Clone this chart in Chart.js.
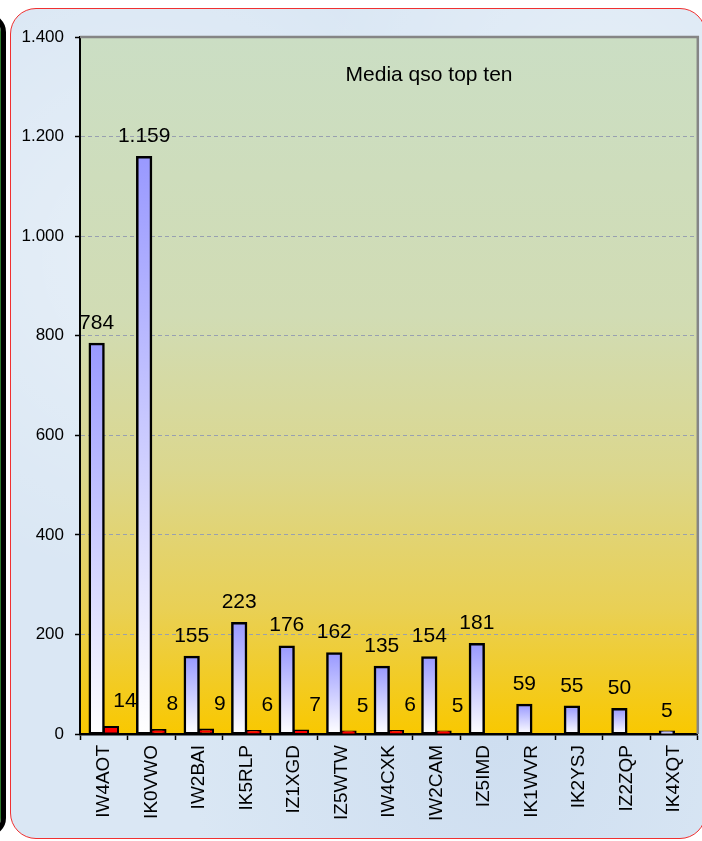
<!DOCTYPE html>
<html>
<head>
<meta charset="utf-8">
<title>Media qso top ten</title>
<script src="https://cdn.jsdelivr.net/npm/chart.js@4.4.1/dist/chart.umd.min.js"></script>
<style>
  html, body { margin: 0; padding: 0; background: #ffffff; }
  body { width: 702px; height: 841px; position: relative; overflow: hidden; }
  .side {
    position: absolute; left: -300px; top: 14px; width: 306px; height: 822px;
    border: 5px solid #000; border-radius: 18px; box-sizing: border-box;
    box-shadow: inset -2px 0 0 #2a7a2a;
  }
  .panel {
    position: absolute; left: 10px; top: 8px; width: 696px; height: 831px;
    border: 1.5px solid #f03030; border-radius: 26px; box-sizing: border-box;
    background-color: #dae7f4;
    background-image:
      radial-gradient(ellipse at 20% 30%, rgba(255,255,255,0.35), rgba(255,255,255,0) 40%),
      radial-gradient(ellipse at 70% 85%, rgba(190,210,235,0.45), rgba(190,210,235,0) 45%),
      radial-gradient(ellipse at 85% 15%, rgba(255,255,255,0.3), rgba(255,255,255,0) 35%);
  }
  #wrap { position: absolute; left: 0; top: 0; width: 702px; height: 841px; }
</style>
</head>
<body>
<div class="side"></div>
<div class="panel"></div>
<div id="wrap"><canvas id="qsoChart"></canvas></div>

<script>
const categories = ["IW4AOT", "IK0VWO", "IW2BAI", "IK5RLP", "IZ1XGD", "IZ5WTW", "IW4CXK",
                    "IW2CAM", "IZ5IMD", "IK1WVR", "IK2YSJ", "IZ2ZQP", "IK4XQT"];
const mediaQso = [784, 1159, 155, 223, 176, 162, 135, 154, 181, 59, 55, 50, 5];
const secondSeries = [14, 8, 9, 6, 7, 5, 6, 5, null, null, null, null, null];
const yTicks = [0, 200, 400, 600, 800, 1000, 1200, 1400];
const chartTitle = "Media qso top ten";

// 1200 -> "1.200" (italian thousands separator)
function fmt(v) {
  return String(v).replace(/\B(?=(\d{3})+(?!\d))/g, ".");
}

Chart.defaults.font.family = "'Liberation Sans', Arial, sans-serif";
Chart.defaults.color = "#000";

// plot area gradient + frame
const plotBackground = {
  id: "plotBackground",
  beforeDraw(chart) {
    const { ctx, chartArea: a } = chart;
    const g = ctx.createLinearGradient(0, a.top, 0, a.bottom);
    g.addColorStop(0, "#cbdec4");
    g.addColorStop(0.4, "#d1dcb4");
    g.addColorStop(0.62, "#dbd78e");
    g.addColorStop(0.82, "#e9d055");
    g.addColorStop(1, "#f9c800");
    ctx.save();
    ctx.fillStyle = g;
    ctx.fillRect(a.left, a.top, a.right - a.left, a.bottom - a.top);
    ctx.restore();
  },
  afterDraw(chart) {
    const { ctx, chartArea: a } = chart;
    ctx.save();
    ctx.strokeStyle = "#858585";
    ctx.lineWidth = 2.5;
    ctx.beginPath();
    ctx.moveTo(a.left, a.top);
    ctx.lineTo(a.right, a.top);
    ctx.lineTo(a.right, a.bottom);
    ctx.stroke();
    // title sits inside the plot area
    ctx.fillStyle = "#000";
    ctx.font = "21px 'Liberation Sans', Arial, sans-serif";
    ctx.textAlign = "center";
    ctx.textBaseline = "middle";
    ctx.fillText(chartTitle, a.left + (a.right - a.left) * 0.565, a.top + 38);
    ctx.restore();
  }
};

// value labels over the bars
const valueLabels = {
  id: "valueLabels",
  afterDatasetsDraw(chart) {
    const { ctx } = chart;
    ctx.save();
    ctx.fillStyle = "#000";
    ctx.font = "21px 'Liberation Sans', Arial, sans-serif";
    ctx.textBaseline = "alphabetic";
    ctx.textAlign = "center";
    chart.data.datasets.forEach((ds, di) => {
      const meta = chart.getDatasetMeta(di);
      meta.data.forEach((bar, i) => {
        const v = ds.data[i];
        if (v === null || v === undefined) return;
        if (di === 0) {
          ctx.fillText(fmt(v), bar.x, bar.y - 15);
        } else {
          ctx.fillText(fmt(v), bar.x + 14, bar.y - 20);
        }
      });
    });
    ctx.restore();
  }
};

function blueFill(context) {
  const chart = context.chart;
  const y = chart.scales.y;
  if (!chart.chartArea || !y) return "#9999ff";
  const v = context.raw || 0;
  const top = y.getPixelForValue(v);
  const base = y.getPixelForValue(0);
  if (base - top < 1) return "#9999ff";
  const g = chart.ctx.createLinearGradient(0, top, 0, base);
  g.addColorStop(0, "#9999ff");
  g.addColorStop(1, "#ffffff");
  return g;
}

document.addEventListener("DOMContentLoaded", () => {
  const canvas = document.getElementById("qsoChart");
  const ctx = canvas.getContext("2d");

  new Chart(ctx, {
    type: "bar",
    data: {
      labels: categories,
      datasets: [
        {
          label: "Media qso",
          data: mediaQso,
          backgroundColor: blueFill,
          borderColor: "#000",
          borderWidth: 2.5,
          borderSkipped: false,
          inflateAmount: 1,
        },
        {
          label: "Serie 2",
          data: secondSeries,
          backgroundColor: "#ff0000",
          borderColor: "#000",
          borderWidth: 2,
          borderSkipped: false,
          inflateAmount: 1,
        },
      ],
    },
    options: {
      responsive: true,
      maintainAspectRatio: false,
      animation: false,
      categoryPercentage: 0.6,
      barPercentage: 1.0,
      layout: { padding: { top: 37, right: 4, left: 0, bottom: 0 } },
      plugins: {
        legend: { display: false },
        tooltip: { enabled: false },
      },
      scales: {
        x: {
          afterFit(scale) { scale.height = 107; },
          grid: {
            drawOnChartArea: false,
            drawTicks: true,
            tickLength: 6,
            tickColor: "#000",
            tickWidth: 1.5,
          },
          border: { color: "#000", width: 2.5 },
          ticks: {
            autoSkip: false,
            maxRotation: 90,
            minRotation: 90,
            padding: 5,
            color: "#000",
            font: { size: 19 },
          },
        },
        y: {
          min: 0,
          max: 1400,
          afterFit(scale) { scale.width = 80; },
          afterBuildTicks(scale) {
            scale.ticks = yTicks.map((v) => ({ value: v }));
          },
          grid: {
            color: (c) => (c.tick && (c.tick.value === 0 || c.tick.value === 1400) ? "rgba(0,0,0,0)" : "#98a0b0"),
            lineWidth: 1,
            drawTicks: true,
            tickLength: 5,
            tickColor: "#000",
            tickWidth: 1.5,
            tickBorderDash: [],
          },
          border: { color: "#000", width: 2, dash: [4, 3] },
          ticks: {
            padding: 11,
            color: "#000",
            font: { size: 17 },
            callback: (v) => fmt(v),
          },
        },
      },
    },
    plugins: [plotBackground, valueLabels],
  });
});
</script>
</body>
</html>
